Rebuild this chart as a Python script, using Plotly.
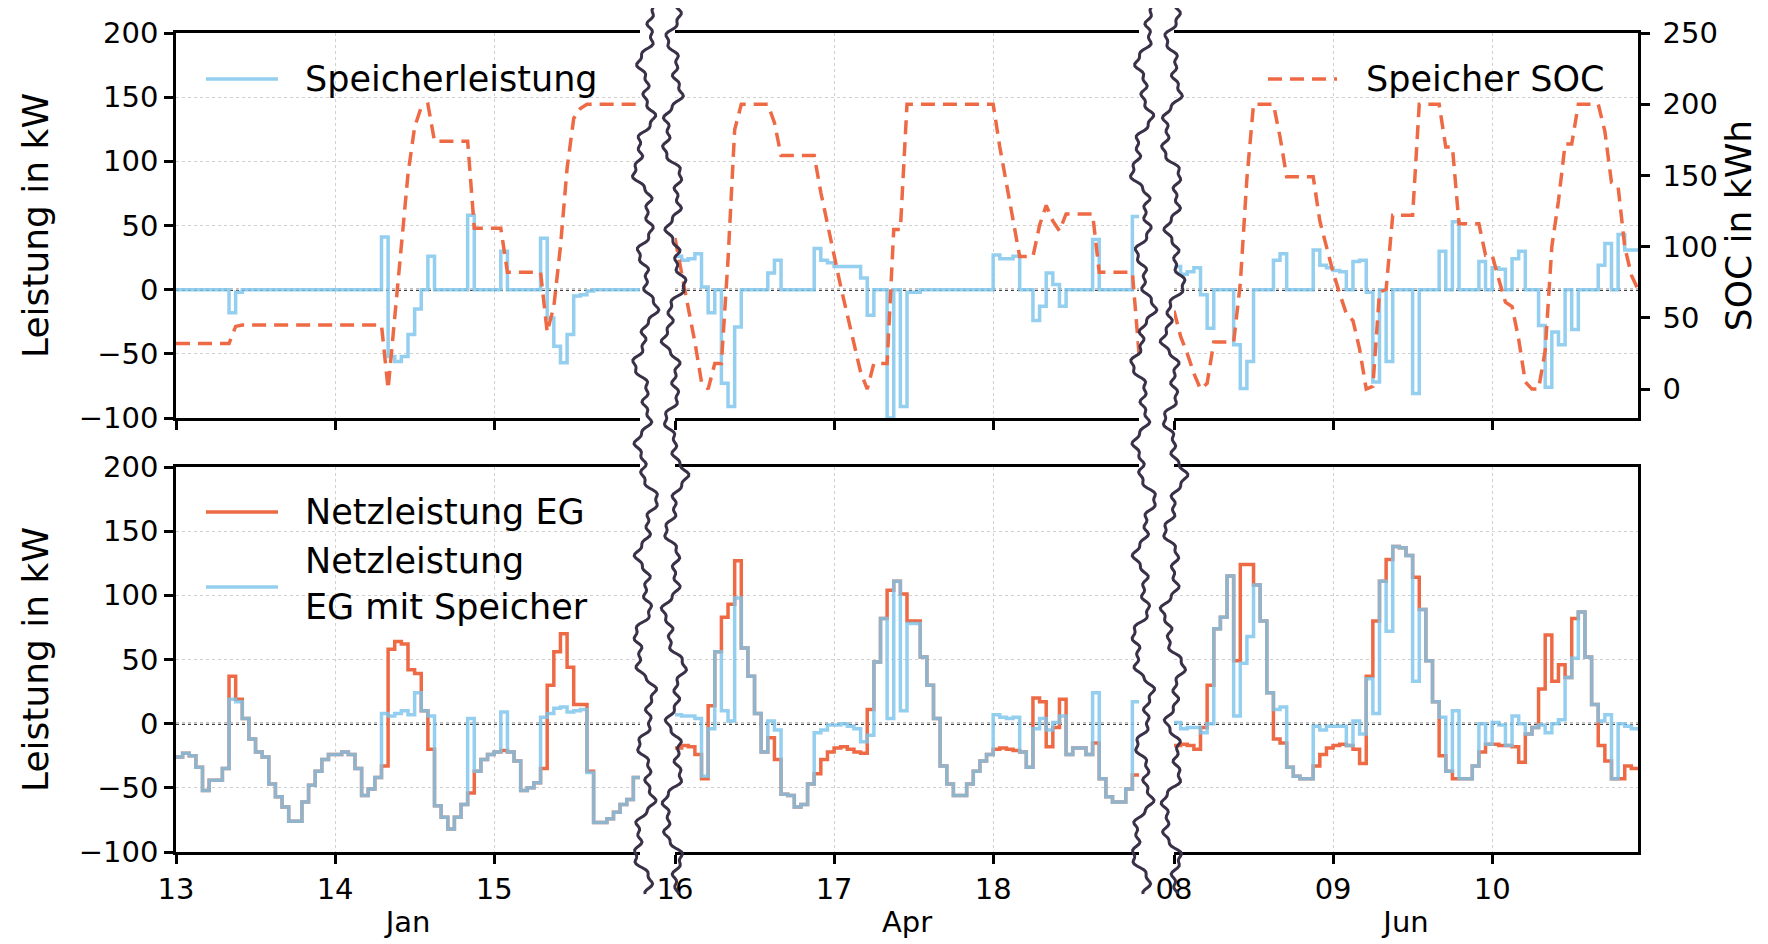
import numpy as np
import pandas as pd
import plotly.graph_objects as go

# ---------------- data (hourly values) ----------------
jan_speicher = [0, 0, 0, 0, 0, 0, 0, 0, -18, -2,
                0, 0, 0, 0, 0, 0, 0, 0, 0, 0,
                0, 0, 0, 0, 0, 0, 0, 0, 0, 0,
                0, 41, -52, -56, -52, -35, -15, 0, 26, 0,
                0, 0, 0, 0, 58, 0, 0, 0, 0, 30,
                0, 0, 0, 0, 0, 40, -22, -44, -57, -35,
                -5, -4, -1, 0, 0, 0, 0, 0, 0, 0]
jan_netz = [-26, -23, -25, -34, -52, -44, -44, -35, 37, 19,
            4, -12, -22, -26, -47, -57, -65, -76, -76, -61,
            -48, -37, -28, -24, -24, -22, -24, -35, -56, -51,
            -42, -33, 58, 64, 62, 42, 39, 10, -20, -64,
            -73, -82, -73, -63, -54, -37, -28, -24, -22, -21,
            -22, -29, -52, -50, -46, -35, 30, 56, 70, 44,
            15, 15, -37, -77, -77, -74, -69, -63, -59, -42]
jan_netz_sp = [-26, -23, -25, -34, -52, -44, -44, -35, 19, 17,
               4, -12, -22, -26, -47, -57, -65, -76, -76, -61,
               -48, -37, -28, -24, -24, -22, -24, -35, -56, -51,
               -42, 8, 6, 8, 10, 7, 24, 10, 6, -64,
               -73, -82, -73, -63, 4, -37, -28, -24, -22, 9,
               -22, -29, -52, -50, -46, 5, 8, 12, 13, 9,
               10, 11, -38, -77, -77, -74, -69, -63, -59, -42]
jan_soc = [32, 32, 32, 32, 32, 32, 32, 32, 32, 44,
           45, 45, 45, 45, 45, 45, 45, 45, 45, 45,
           45, 45, 45, 45, 45, 45, 45, 45, 45, 45,
           45, 45, 0, 49, 102, 151, 184, 198, 200, 174,
           174, 174, 174, 174, 174, 113, 113, 113, 113, 113,
           82, 82, 82, 82, 82, 82, 40, 58, 100, 155,
           190, 197, 200, 200, 200, 200, 200, 200, 200, 200,
           200]

apr_speicher = [26, 23, 24, 28, 2, -18, 0, -73, -91, -29,
                0, 0, 0, 0, 13, 23, 0, 0, 0, 0,
                0, 32, 23, 21, 18, 18, 18, 18, 9, -20,
                0, 0, -100, 0, -91, -2, -2, 0, 0, 0,
                0, 0, 0, 0, 0, 0, 0, 0, 27, 24,
                24, 26, 0, 0, -24, -13, 13, 4, -13, 0,
                0, 0, 0, 39, 0, 0, 0, 0, 0, 57]
apr_netz = [-19, -17, -18, -24, -43, 14, 56, 83, 93, 127,
            59, 37, 8, -22, -11, -28, -55, -56, -65, -63,
            -47, -39, -28, -22, -19, -18, -20, -22, -23, 11,
            48, 82, 104, 111, 101, 80, 80, 52, 30, 4,
            -33, -47, -56, -56, -47, -37, -29, -24, -20, -19,
            -20, -21, -22, -34, 20, 17, -18, -3, 19, -24,
            -19, -19, -24, -15, -43, -57, -61, -61, -51, -40]
apr_netz_sp = [7, 6, 6, 4, -41, -4, 56, 10, 2, 98,
               59, 37, 8, -22, 2, -5, -55, -56, -65, -63,
               -47, -7, -5, -1, -1, 0, -2, -4, -14, -9,
               48, 82, 4, 111, 10, 78, 78, 52, 30, 4,
               -33, -47, -56, -56, -47, -37, -29, -24, 7, 5,
               4, 5, -22, -34, -4, 4, -5, 1, 6, -24,
               -19, -19, -24, 24, -43, -57, -61, -61, -51, 17]
apr_soc = [106, 80, 57, 33, 5, 0, 18, 18, 91, 182,
           200, 200, 200, 200, 200, 187, 164, 164, 164, 164,
           164, 164, 138, 115, 93, 72, 52, 32, 12, 0,
           18, 18, 18, 112, 112, 200, 200, 200, 200, 200,
           200, 200, 200, 200, 200, 200, 200, 200, 200, 170,
           144, 118, 93, 93, 93, 115, 129, 118, 111, 123,
           123, 123, 123, 123, 82, 82, 82, 82, 82, 82,
           25]

jun_speicher = [18, 12, 14, 17, -4, -30, 0, 0, 0, -43,
                -77, -56, 0, 0, 0, 23, 28, 0, 0, 0,
                0, 31, 19, 17, 15, 14, 0, 22, 23, -2,
                -72, 0, -56, 0, 0, 0, -81, 0, 0, 0,
                30, 0, 53, 0, 0, 0, 22, 0, 17, 16,
                0, 24, 30, 0, 0, -28, -76, -33, -43, 0,
                -31, 0, 0, 0, 19, 36, 0, 43, 31, 31]
jun_netz = [-17, -16, -17, -20, -3, 30, 74, 83, 115, 49,
            124, 124, 108, 80, 24, -12, -15, -34, -41, -43,
            -43, -33, -24, -19, -17, -16, -17, -20, -31, 37,
            80, 111, 128, 138, 137, 131, 114, 89, 49, 17,
            -25, -37, -43, -43, -43, -33, -22, -16, -16, -17,
            -17, -18, -30, -8, -3, 27, 69, 33, 46, 36,
            82, 87, 52, 15, -17, -29, -43, -43, -33, -35]
jun_netz_sp = [1, -4, -3, -3, -7, 0, 74, 83, 115, 6,
               47, 68, 108, 80, 24, 11, 13, -34, -41, -43,
               -43, -2, -5, -2, -2, -2, -17, 2, -8, 35,
               8, 111, 72, 138, 137, 131, 33, 89, 49, 17,
               5, -37, 10, -43, -43, -33, 0, -16, 1, -1,
               -17, 6, 0, -8, -3, -1, -7, 0, 3, 36,
               51, 87, 52, 15, 2, 7, -43, 0, -2, -4]
jun_soc = [55, 37, 25, 11, 0, 4, 33, 33, 33, 33,
           74, 148, 200, 200, 200, 200, 177, 149, 149, 149,
           149, 149, 118, 99, 82, 67, 53, 48, 28, 0,
           2, 68, 70, 122, 122, 122, 122, 200, 200, 200,
           200, 170, 170, 116, 116, 116, 116, 94, 94, 77,
           61, 58, 35, 5, 0, 0, 27, 100, 132, 172,
           172, 200, 200, 200, 200, 181, 145, 142, 100, 80,
           70]

segment_starts = ["2019-01-13", "2019-04-16", "2019-06-08"]
segment_ticks = [["2019-01-13", "2019-01-14", "2019-01-15"],
                 ["2019-04-16", "2019-04-17", "2019-04-18"],
                 ["2019-06-08", "2019-06-09", "2019-06-10"]]
month_labels = ["Jan", "Apr", "Jun"]
kw_ticks = [-100, -50, 0, 50, 100, 150, 200]
soc_ticks = [0, 50, 100, 150, 200, 250]

# ---------------- styling ----------------
W, H = 1768, 944
OFF = 8  # page body margin of the html page
L_PX, R_PX, T_PX, B_PX = 176, 1638, 33, 852   # plot area in window pixels
ML = L_PX - OFF
MT = T_PX - OFF
MR = W - (R_PX - OFF)
MB = H - (B_PX - OFF)
PW = W - ML - MR
PH = H - MT - MB
FONT = "DejaVu Sans"
BLUE = "rgba(125,196,236,0.82)"
ORANGE = "#ee6a45"
GRID = "#d0d0d0"
WAVE = "#3a3048"


def px_x(px):
    return (px - L_PX) / PW


def px_y(py):
    return (B_PX - py) / PH


seg_px = [(176, 640), (675, 1139), (1174, 1638)]
xdom = [[max(0.0, px_x(a)), min(1.0, px_x(b))] for a, b in seg_px]
top_dom = [px_y(418), 1.0]
bot_dom = [0.0, px_y(467)]

data = [(jan_speicher, jan_soc, jan_netz, jan_netz_sp),
        (apr_speicher, apr_soc, apr_netz, apr_netz_sp),
        (jun_speicher, jun_soc, jun_netz, jun_netz_sp)]

fig = go.Figure()


def ax(kind, n):
    return kind if n == 1 else f"{kind}{n}"


for i, (sp, soc, netz, netz_sp) in enumerate(data):
    x = pd.date_range(segment_starts[i], periods=len(soc), freq="h")
    xt, yt = ax("x", i + 1), ax("y", i + 1)
    xb, yb = ax("x", i + 4), ax("y", i + 4)
    ys = ax("y", i + 7)
    fig.add_trace(go.Scatter(x=x, y=list(sp) + [sp[-1]], mode="lines",
                             line=dict(shape="hv", color=BLUE, width=3.5),
                             xaxis=xt, yaxis=yt, name="Speicherleistung", showlegend=False))
    fig.add_trace(go.Scatter(x=x, y=list(netz) + [netz[-1]], mode="lines",
                             line=dict(shape="hv", color=ORANGE, width=3.5),
                             xaxis=xb, yaxis=yb, name="Netzleistung EG", showlegend=False))
    fig.add_trace(go.Scatter(x=x, y=list(netz_sp) + [netz_sp[-1]], mode="lines",
                             line=dict(shape="hv", color=BLUE, width=3.5),
                             xaxis=xb, yaxis=yb, name="Netzleistung EG mit Speicher", showlegend=False))
    fig.add_trace(go.Scatter(x=x, y=soc, mode="lines",
                             line=dict(color=ORANGE, width=3.5, dash="14px,8px"),
                             xaxis=xt, yaxis=ys, name="Speicher SOC", showlegend=False))

tickfont = dict(family=FONT, size=29, color="black")
layout = dict()
for i in range(3):
    rng = [pd.Timestamp(segment_starts[i]), pd.Timestamp(segment_starts[i]) + pd.Timedelta(hours=70)]
    for row in range(2):
        n = i + 1 + 3 * row
        xkey = "xaxis" if n == 1 else f"xaxis{n}"
        xcfg = dict(domain=xdom[i], anchor=ax("y", n), type="date", range=rng,
                    tickvals=segment_ticks[i], tickformat="%d",
                    showticklabels=(row == 1), ticks="outside", ticklen=9, tickwidth=2.5,
                    tickcolor="black", showline=True, mirror=True, linecolor="black",
                    linewidth=2.5, showgrid=True, gridcolor=GRID, griddash="dot",
                    gridwidth=1.2, zeroline=False, tickfont=tickfont)
        if row == 1:
            xcfg["title"] = dict(text=month_labels[i], font=tickfont, standoff=8)
        layout[xkey] = xcfg
        ykey = "yaxis" if n == 1 else f"yaxis{n}"
        ycfg = dict(domain=top_dom if row == 0 else bot_dom, anchor=ax("x", n),
                    range=[-100, 200], tickvals=kw_ticks, showgrid=True, gridcolor=GRID,
                    griddash="dot", gridwidth=1.2, zeroline=False, tickfont=tickfont)
        if i == 0:
            ycfg.update(showticklabels=True, ticks="outside", ticklen=9, tickwidth=2.5,
                        tickcolor="black", showline=True, linecolor="black", linewidth=2.5,
                        title=dict(text="Leistung in kW", font=dict(family=FONT, size=36, color="black"),
                                   standoff=20))
        elif i == 2 and row == 1:
            ycfg.update(side="right", showticklabels=False, ticks="", showline=True,
                        linecolor="black", linewidth=2.5)
        else:
            ycfg.update(showticklabels=False, ticks="", showline=False)
        layout[ykey] = ycfg
    # SOC axes
    skey = f"yaxis{i + 7}"
    scfg = dict(overlaying=ax("y", i + 1), anchor=ax("x", i + 1), range=[-20.3, 250],
                showgrid=False, zeroline=False)
    if i == 2:
        scfg.update(side="right", tickvals=soc_ticks, ticks="outside", ticklen=9,
                    tickwidth=2.5, tickcolor="black", showline=True, linecolor="black",
                    linewidth=2.5, tickfont=tickfont, ticklabelstandoff=7,
                    title=dict(text="SOC in kWh", font=dict(family=FONT, size=36, color="black"),
                               standoff=6))
    else:
        scfg.update(visible=False)
    layout[skey] = scfg

shapes = []
# dotted zero lines
for n in range(1, 7):
    shapes.append(dict(type="line", xref=f"{ax('x', n)} domain", yref=ax("y", n),
                       x0=0, x1=1, y0=0, y1=0, layer="below",
                       line=dict(color="black", width=2, dash="dot")))


# wavy axis-break lines (decoration)
def wave_path(cx, phase):
    ys = np.arange(4.0, 896.0, 2.0)
    xs = (cx + 6.0 * np.sin(2 * np.pi * ys / 97.0 + phase)
          + 4.0 * np.sin(2 * np.pi * ys / 38.0 + 2.1 * phase)
          + 2.0 * np.sin(2 * np.pi * ys / 14.0 + phase)
          + 3.0 * np.sin(2 * np.pi * ys / 230.0 + 0.5 * phase))
    pts = [f"{px_x(a):.5f},{px_y(b):.5f}" for a, b in zip(xs, ys)]
    return "M " + " L ".join(pts)


for cx, ph in [(645, 0.4), (674, 2.2), (1143, 0.4), (1173, 2.2)]:
    shapes.append(dict(type="path", xref="paper", yref="paper", path=wave_path(cx, ph),
                       line=dict(color=WAVE, width=3), layer="above"))

# legend samples
legend_lines = [((206, 278), 79, BLUE, "solid"),
                ((1268, 1337), 79, ORANGE, "14px,8px"),
                ((206, 278), 512, ORANGE, "solid"),
                ((206, 278), 587, BLUE, "solid")]
for (xa, xb2), yy, col, dash in legend_lines:
    shapes.append(dict(type="line", xref="paper", yref="paper", x0=px_x(xa), x1=px_x(xb2),
                       y0=px_y(yy), y1=px_y(yy), layer="above",
                       line=dict(color=col, width=3.5, dash=dash)))

legend_texts = [("Speicherleistung", 303, 79), ("Speicher SOC", 1364, 79),
                ("Netzleistung EG", 303, 512),
                ("Netzleistung<br>EG mit Speicher", 303, 584)]
annotations = []
for txt, xx, yy in legend_texts:
    annotations.append(dict(text=txt, xref="paper", yref="paper", x=px_x(xx), y=px_y(yy),
                            xanchor="left", yanchor="middle", align="left", showarrow=False,
                            font=dict(family=FONT, size=35, color="black")))

fig.update_layout(**layout)
fig.update_layout(width=W, height=H, margin=dict(l=ML, r=MR, t=MT, b=MB, autoexpand=False),
                  plot_bgcolor="white", paper_bgcolor="white", showlegend=False,
                  shapes=shapes, annotations=annotations, font=dict(family=FONT, color="black"))

fig.write_html("out.html")
